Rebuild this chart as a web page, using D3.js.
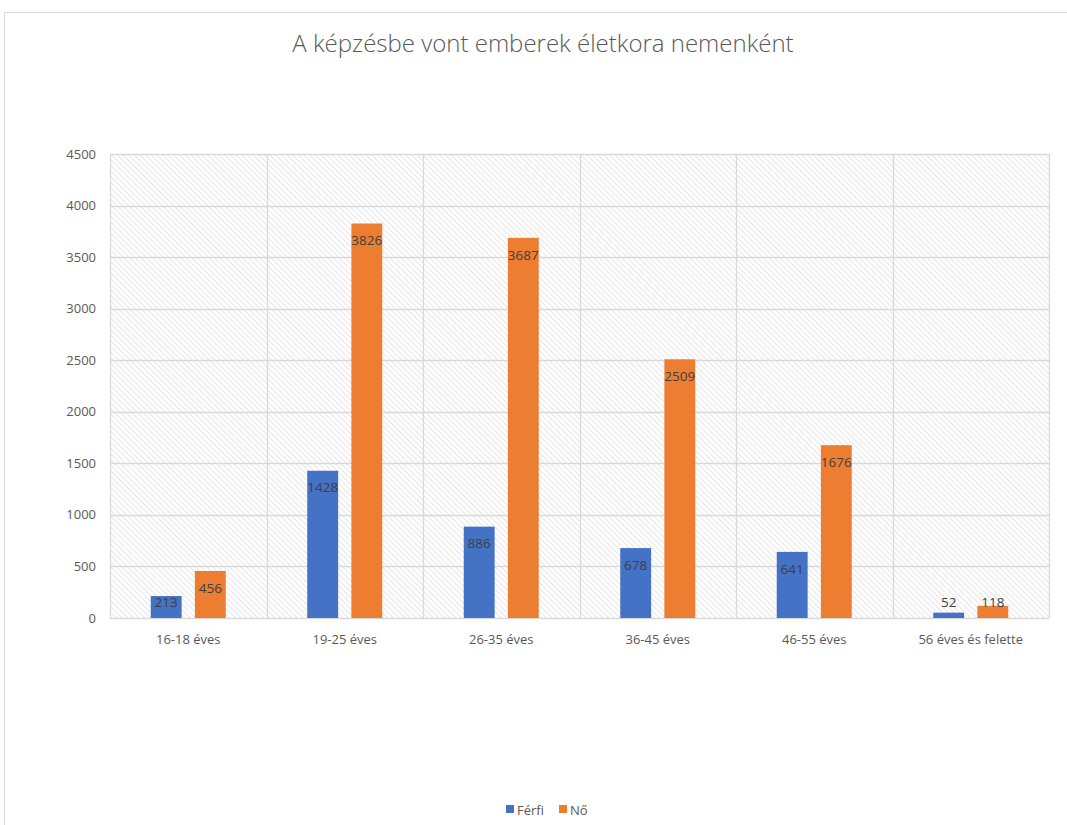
<!DOCTYPE html>
<html>
<head>
<meta charset="utf-8">
<script src="https://cdn.jsdelivr.net/npm/d3@7"></script>
<style>
  body { margin: 0; background: #fff; }
  svg { display: block; font-family: "Open Sans", "Noto Sans", sans-serif; }
</style>
</head>
<body>
<svg id="chart" width="1067" height="825"></svg>
<script>
const categories = ["16-18 éves", "19-25 éves", "26-35 éves", "36-45 éves", "46-55 éves", "56 éves és felette"];
const seriesNames = ["Férfi", "Nő"];
const ferfi = [213, 1428, 886, 678, 641, 52];
const no = [456, 3826, 3687, 2509, 1676, 118];
const yTicks = [0, 500, 1000, 1500, 2000, 2500, 3000, 3500, 4000, 4500];
const colors = ["#4472C4", "#ED7D31"];

const svg = d3.select("#chart");

// chart frame
svg.append("rect")
    .attr("x", 4.5).attr("y", 12.5)
    .attr("width", 1080).attr("height", 830)
    .attr("fill", "#fff")
    .attr("stroke", "#d9d9d9");

// hatch pattern for plot area
const defs = svg.append("defs");
const pat = defs.append("pattern")
    .attr("id", "hatch")
    .attr("patternUnits", "userSpaceOnUse")
    .attr("width", 4).attr("height", 4)
    .attr("patternTransform", "rotate(-45)");
pat.append("line")
    .attr("x1", 0).attr("y1", 0).attr("x2", 0).attr("y2", 4)
    .attr("stroke", "#dedede").attr("stroke-width", 1.6);

const margin = { top: 154, right: 18, bottom: 207, left: 110 };
const width = 1067 - margin.left - margin.right;
const height = 825 - margin.top - margin.bottom;

const g = svg.append("g").attr("transform", `translate(${margin.left},${margin.top})`);

const x0 = d3.scaleBand().domain(categories).range([0, width]);
const y = d3.scaleLinear().domain([0, 4500]).range([height, 0]);

g.append("rect")
    .attr("width", width).attr("height", height)
    .attr("fill", "url(#hatch)");

// horizontal gridlines
g.selectAll(".hgrid")
    .data(yTicks)
    .enter()
    .append("line")
    .attr("x1", 0).attr("x2", width)
    .attr("y1", d => Math.round(y(d)) + 0.5)
    .attr("y2", d => Math.round(y(d)) + 0.5)
    .attr("stroke", "#d9d9d9").attr("stroke-width", 1.3);

// vertical gridlines at category boundaries
const bounds = categories.map(c => x0(c)).concat([width]);
g.selectAll(".vgrid")
    .data(bounds)
    .enter()
    .append("line")
    .attr("x1", d => Math.round(d) + 0.5).attr("x2", d => Math.round(d) + 0.5)
    .attr("y1", 0).attr("y2", height)
    .attr("stroke", "#d9d9d9").attr("stroke-width", 1.3);

// y axis labels
g.selectAll(".ylab")
    .data(yTicks)
    .enter()
    .append("text")
    .attr("x", -14)
    .attr("y", d => y(d))
    .attr("dy", "0.35em")
    .attr("text-anchor", "end")
    .attr("font-size", "13px")
    .attr("fill", "#595959")
    .text(d => d);

// x axis labels
g.selectAll(".xlab")
    .data(categories)
    .enter()
    .append("text")
    .attr("x", d => x0(d) + x0.bandwidth() / 2)
    .attr("y", height + 26)
    .attr("text-anchor", "middle")
    .attr("font-size", "13px")
    .attr("fill", "#595959")
    .text(d => d);

const x1 = d3.scaleBand().domain(seriesNames).range([0, 75]).paddingInner(0.3);
const groupOffset = (x0.bandwidth() - 75) / 2;

const rows = categories.map((c, i) => ({ cat: c, values: [ferfi[i], no[i]] }));

const groups = g.selectAll(".grp")
    .data(rows)
    .enter()
    .append("g")
    .attr("transform", d => `translate(${x0(d.cat) + groupOffset},0)`);

groups.selectAll("rect")
    .data(d => d.values.map((v, j) => ({ name: seriesNames[j], v: v, j: j })))
    .enter()
    .append("rect")
    .attr("x", d => x1(d.name))
    .attr("y", d => y(d.v))
    .attr("width", x1.bandwidth())
    .attr("height", d => height - y(d.v))
    .attr("fill", d => colors[d.j]);

groups.selectAll(".lbl")
    .data(d => d.values.map((v, j) => ({ name: seriesNames[j], v: v })))
    .enter()
    .append("text")
    .attr("x", d => x1(d.name) + x1.bandwidth() / 2)
    .attr("y", d => Math.min(y(d.v) + 17, height - 16))
    .attr("dy", "0.35em")
    .attr("text-anchor", "middle")
    .attr("font-size", "13.5px")
    .attr("fill", "#404040")
    .text(d => d.v);

// title
svg.append("text")
    .attr("x", 543)
    .attr("y", 52)
    .attr("text-anchor", "middle")
    .attr("font-size", "24px")
    .attr("font-weight", 300)
    .attr("fill", "#595959")
    .text("A képzésbe vont emberek életkora nemenként");

// legend
const legend = svg.append("g").attr("transform", "translate(506,810)");
const items = [{ name: "Férfi", dx: 0 }, { name: "Nő", dx: 53 }];
items.forEach((it, j) => {
    legend.append("rect")
        .attr("x", it.dx).attr("y", -5)
        .attr("width", 8).attr("height", 8)
        .attr("fill", colors[j]);
    legend.append("text")
        .attr("x", it.dx + 11).attr("y", 0)
        .attr("dy", "0.35em")
        .attr("font-size", "13px")
        .attr("fill", "#595959")
        .text(it.name);
});
</script>
</body>
</html>
